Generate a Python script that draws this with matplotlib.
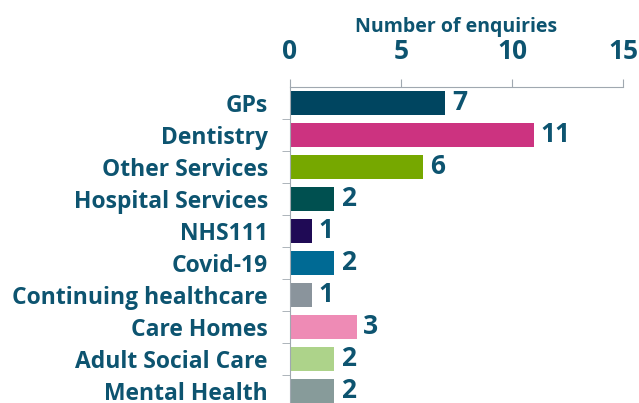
import matplotlib.pyplot as plt

categories = ["GPs", "Dentistry", "Other Services", "Hospital Services", "NHS111",
              "Covid-19", "Continuing healthcare", "Care Homes", "Adult Social Care",
              "Mental Health"]
values = [7, 11, 6, 2, 1, 2, 1, 3, 2, 2]
colors = ["#004560", "#cc3380", "#76a800", "#005050", "#1f0a55",
          "#006a94", "#8a949c", "#ee8bb5", "#add38a", "#879b9a"]
xticks = [0, 5, 10, 15]

text_color = "#0d5470"
plt.rcParams["font.family"] = ["Open Sans", "DejaVu Sans"]

fig = plt.figure(figsize=(6.39, 4.03), dpi=100)
ax = fig.add_axes([290 / 639, -4 / 403, 333 / 639, 320 / 403])

y = range(len(categories))
ax.barh(y, values, height=0.75, color=colors)
ax.set_ylim(len(categories) - 0.5, -0.5)
ax.set_xlim(0, 15)

for i, v in enumerate(values):
    ax.text(v + 0.3, i, str(v), va="center", ha="left", fontsize=19,
            fontweight="bold", color=text_color)

ax.xaxis.set_ticks_position("top")
ax.xaxis.set_label_position("top")
ax.set_xticks(xticks)
ax.set_xticklabels([str(t) for t in xticks], fontsize=19, fontweight="bold",
                   color=text_color)
ax.set_xlabel("Number of enquiries", fontsize=14, fontweight="bold",
              color=text_color, labelpad=4)
ax.tick_params(axis="x", length=6, color="#a0a8b0", pad=10)

ax.set_yticks(list(y))
ax.set_yticklabels(categories, fontsize=16.5, fontweight="bold", color=text_color)
ax.set_yticks([i + 0.5 for i in range(len(categories) - 1)], minor=True)
ax.tick_params(axis="y", which="major", length=0, pad=16)
ax.tick_params(axis="y", which="minor", length=6, color="#a0a8b0")

for s in ["right", "bottom"]:
    ax.spines[s].set_visible(False)
for s in ["top", "left"]:
    ax.spines[s].set_color("#a0a8b0")

fig.savefig("out.png", dpi=100)
